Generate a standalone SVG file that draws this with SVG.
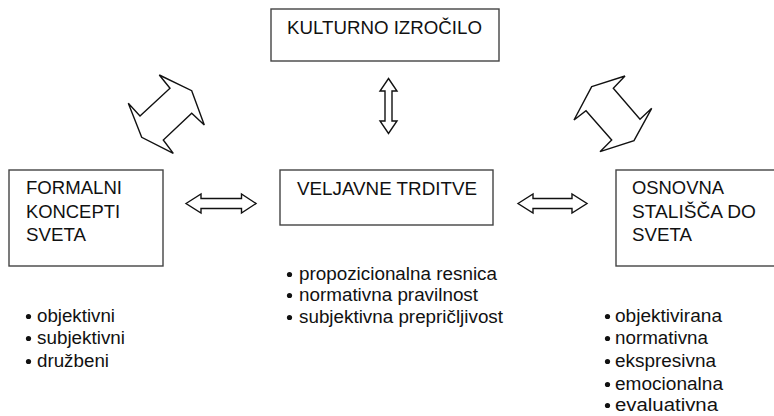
<svg xmlns="http://www.w3.org/2000/svg" width="774" height="416" viewBox="0 0 774 416">
<style>
.box{fill:#fff;stroke:#444;stroke-width:1.4}
.arr{fill:#fff;stroke:#111;stroke-width:1.4;stroke-linejoin:miter}
.dot{fill:#111}
text{font-family:"Liberation Sans",Arial,sans-serif;font-size:17.5px;fill:#111}
</style>
<defs><circle id="bul" r="2.6" class="dot"/></defs>
<rect width="774" height="416" fill="#fff"/>
<g id="connectors">
<polygon class="arr" points="159.3,75 191.7,90.7 204.3,125 191.7,113.3 163.3,140 173.3,153.3 141.7,137.3 128.3,103.3 140,116 170,88.3"/>
<polygon class="arr" points="591.7,86.7 625,76 613.3,88.3 640,119.3 651.7,108.3 634,140.7 600,151.7 611.7,140 586,110.7 574,120"/>
<polygon class="arr" points="388.5,78.5 397,91 392,91 392,121 397,121 388.5,133.5 380,121 385,121 385,91 380,91"/>
<polygon class="arr" points="186,203.5 201,194 201,198.5 241.5,198.5 241.5,194 256,203.5 241.5,213 241.5,208.5 201,208.5 201,213"/>
<polygon class="arr" points="518,203.5 533,194 533,198.5 572,198.5 572,194 587,203.5 572,213 572,208.5 533,208.5 533,213"/>
</g>
<g id="kulturno">
<rect class="box" x="271" y="9" width="228" height="52"/>
<text x="287" y="34.3" textLength="195" lengthAdjust="spacingAndGlyphs">KULTURNO IZROČILO</text>
</g>
<g id="formalni">
<rect class="box" x="9" y="170" width="154" height="96"/>
<text x="26" y="194" textLength="96" lengthAdjust="spacingAndGlyphs">FORMALNI</text>
<text x="26" y="218" textLength="94" lengthAdjust="spacingAndGlyphs">KONCEPTI</text>
<text x="26" y="241" textLength="60" lengthAdjust="spacingAndGlyphs">SVETA</text>
</g>
<g id="veljavne">
<rect class="box" x="280" y="170" width="213" height="55"/>
<text x="297" y="195" textLength="180" lengthAdjust="spacingAndGlyphs">VELJAVNE TRDITVE</text>
</g>
<g id="osnovna">
<rect class="box" x="616" y="170" width="180" height="96"/>
<text x="632" y="194" textLength="92" lengthAdjust="spacingAndGlyphs">OSNOVNA</text>
<text x="632" y="218" textLength="124" lengthAdjust="spacingAndGlyphs">STALIŠČA DO</text>
<text x="632" y="241" textLength="60" lengthAdjust="spacingAndGlyphs">SVETA</text>
</g>
<g id="list-formalni">
<use href="#bul" x="28.5" y="316.5"/><text x="37" y="322" textLength="78" lengthAdjust="spacingAndGlyphs">objektivni</text>
<use href="#bul" x="28.5" y="338.5"/><text x="37" y="344" textLength="88" lengthAdjust="spacingAndGlyphs">subjektivni</text>
<use href="#bul" x="28.5" y="361.5"/><text x="37" y="367" textLength="72" lengthAdjust="spacingAndGlyphs">družbeni</text>
</g>
<g id="list-veljavne">
<use href="#bul" x="289.5" y="274.5"/><text x="299" y="280" textLength="198" lengthAdjust="spacingAndGlyphs">propozicionalna resnica</text>
<use href="#bul" x="289.5" y="295.5"/><text x="299" y="301" textLength="179" lengthAdjust="spacingAndGlyphs">normativna pravilnost</text>
<use href="#bul" x="289.5" y="317.5"/><text x="299" y="323" textLength="204" lengthAdjust="spacingAndGlyphs">subjektivna prepričljivost</text>
</g>
<g id="list-osnovna">
<use href="#bul" x="607.5" y="316.5"/><text x="615" y="322" textLength="107" lengthAdjust="spacingAndGlyphs">objektivirana</text>
<use href="#bul" x="607.5" y="338.5"/><text x="615" y="344" textLength="93" lengthAdjust="spacingAndGlyphs">normativna</text>
<use href="#bul" x="607.5" y="361.5"/><text x="615" y="367" textLength="101" lengthAdjust="spacingAndGlyphs">ekspresivna</text>
<use href="#bul" x="607.5" y="384.5"/><text x="615" y="390" textLength="108" lengthAdjust="spacingAndGlyphs">emocionalna</text>
<use href="#bul" x="607.5" y="405.5"/><text x="615" y="411" textLength="103" lengthAdjust="spacingAndGlyphs">evaluativna</text>
</g>
</svg>
